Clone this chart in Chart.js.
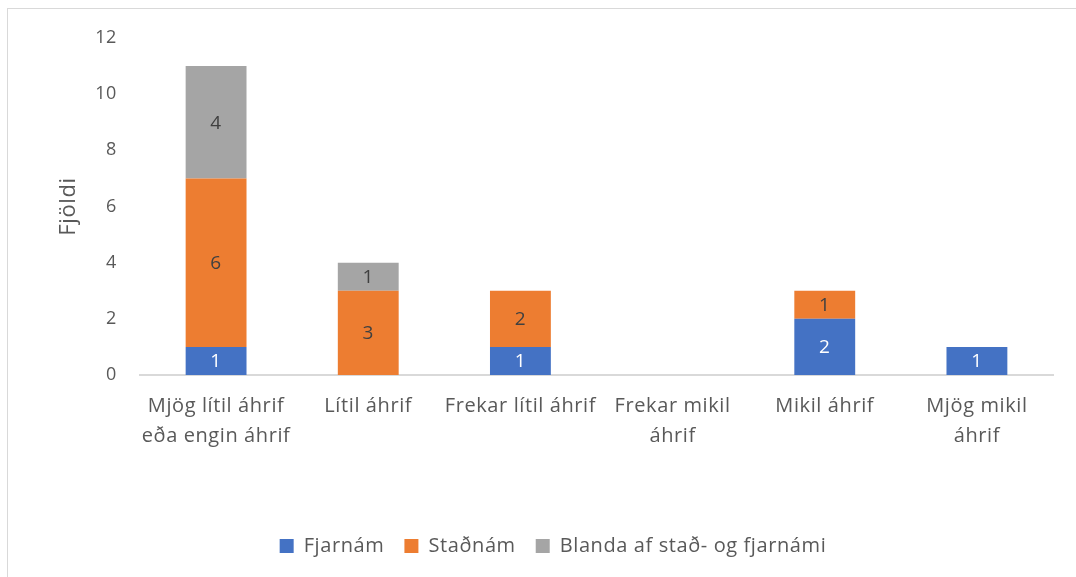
<!DOCTYPE html>
<html>
<head>
<meta charset="utf-8">
<script src="https://cdn.jsdelivr.net/npm/chart.js@4/dist/chart.umd.min.js"></script>
<style>
  body { margin: 0; background: #fff; }
  #wrap { position: relative; width: 1076px; height: 577px; }
  #frame {
    position: absolute; left: 7px; top: 8px; right: -2px; bottom: -2px;
    border-left: 1px solid #d9d9d9; border-top: 1px solid #d9d9d9;
    pointer-events: none;
  }
</style>
</head>
<body>
<div id="wrap">
  <canvas id="fjoldichart"></canvas>
  <div id="frame"></div>
</div>
<script>
const categories = [
  ['Mjög lítil áhrif', 'eða engin áhrif'],
  'Lítil áhrif',
  'Frekar lítil áhrif',
  ['Frekar mikil', 'áhrif'],
  'Mikil áhrif',
  ['Mjög mikil', 'áhrif']
];

const fjarnam = [1, 0, 1, 0, 2, 1];
const stadnam = [6, 3, 2, 0, 1, 0];
const blanda = [4, 1, 0, 0, 0, 0];

const yTicks = [0, 2, 4, 6, 8, 10, 12];

const FONT = "'Open Sans', 'Liberation Sans', sans-serif";

// a little extra tracking on all canvas text (canvas resets it on resize)
const tracking = {
  id: 'tracking',
  beforeLayout(chart) { chart.ctx.letterSpacing = '0.6px'; },
  beforeDraw(chart) { chart.ctx.letterSpacing = '0.6px'; }
};

// value labels in the middle of each stacked segment
const segmentLabels = {
  id: 'segmentLabels',
  afterDatasetsDraw(chart) {
    const ctx = chart.ctx;
    ctx.save();
    ctx.font = '19px ' + FONT;
    ctx.textAlign = 'center';
    ctx.textBaseline = 'middle';
    chart.data.datasets.forEach((ds, i) => {
      const meta = chart.getDatasetMeta(i);
      meta.data.forEach((bar, j) => {
        const v = ds.data[j];
        if (!v) return;
        ctx.fillStyle = ds.labelColor;
        ctx.fillText(String(v), bar.x, (bar.y + bar.base) / 2 + 1);
      });
    });
    ctx.restore();
  }
};

const data = {
  labels: categories,
  datasets: [{
      label: 'Fjarnám',
      data: fjarnam,
      backgroundColor: '#4472C4',
      labelColor: '#ffffff'
    },
    {
      label: 'Staðnám',
      data: stadnam,
      backgroundColor: '#ED7D31',
      labelColor: '#404040'
    },
    {
      label: 'Blanda af stað- og fjarnámi',
      data: blanda,
      backgroundColor: '#A5A5A5',
      labelColor: '#404040'
    }
  ]
};

const config = {
  type: 'bar',
  data,
  plugins: [tracking, segmentLabels],
  options: {
    responsive: true,
    maintainAspectRatio: false,
    animation: false,
    datasets: {
      bar: {
        categoryPercentage: 1,
        barPercentage: 0.4,
        borderWidth: 0
      }
    },
    layout: {
      padding: { left: 53, right: 23, top: 38, bottom: 11 }
    },
    plugins: {
      tooltip: { enabled: false },
      legend: {
        position: 'bottom',
        labels: {
          color: '#595959',
          font: { family: FONT, size: 20 },
          boxWidth: 14,
          boxHeight: 14,
          padding: 20
        }
      }
    },
    scales: {
      x: {
        stacked: true,
        grid: { display: false, drawTicks: false },
        border: { display: true, color: '#d9d9d9', width: 2 },
        ticks: {
          color: '#595959',
          font: { family: FONT, size: 20, lineHeight: 1.5 },
          padding: 16,
          maxRotation: 0,
          autoSkip: false
        },
        afterFit(scale) { scale.height = 141; }
      },
      y: {
        stacked: true,
        min: 0,
        max: 12,
        afterBuildTicks(scale) { scale.ticks = yTicks.map(v => ({ value: v })); },
        grid: { display: false, drawTicks: false },
        border: { display: false },
        ticks: {
          color: '#595959',
          font: { family: FONT, size: 18 },
          padding: 23
        },
        title: {
          display: true,
          text: 'Fjöldi',
          color: '#595959',
          font: { family: FONT, size: 22 },
          padding: { top: 3, bottom: 0 }
        },
        afterFit(scale) { scale.width = 87; }
      }
    }
  }
};

const fjoldiChart = new Chart(
  document.getElementById('fjoldichart'),
  config
);
</script>
</body>
</html>
